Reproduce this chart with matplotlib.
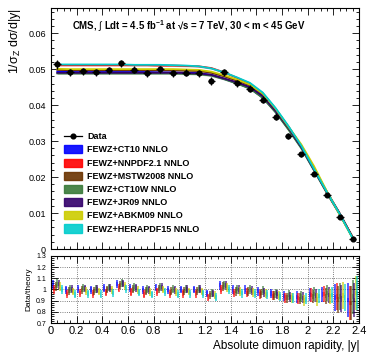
import matplotlib
matplotlib.use("Agg")
import matplotlib.pyplot as plt
import numpy as np
from matplotlib.ticker import MultipleLocator
from matplotlib.lines import Line2D
from matplotlib.patches import Patch, Rectangle

plt.rcParams['font.family'] = ['Liberation Sans', 'DejaVu Sans']
plt.rcParams['mathtext.fontset'] = 'custom'
plt.rcParams['mathtext.rm'] = 'Liberation Sans'
plt.rcParams['mathtext.it'] = 'Liberation Sans'
plt.rcParams['mathtext.bf'] = 'Liberation Sans:bold'

bin_centers = [0.05, 0.15, 0.25, 0.35, 0.45, 0.55, 0.65, 0.75, 0.85, 0.95, 1.05, 1.15,
               1.25, 1.35, 1.45, 1.55, 1.65, 1.75, 1.85, 1.95, 2.05, 2.15, 2.25, 2.35]
data = [0.0513, 0.0491, 0.0494, 0.0491, 0.0497, 0.0516, 0.0498, 0.0489, 0.0500, 0.0489, 0.0490, 0.0489,
        0.0467, 0.0491, 0.0461, 0.0446, 0.0415, 0.0368, 0.0315, 0.0263, 0.0209, 0.0150, 0.0090, 0.0029]
data_err = [0.0012, 0.0010, 0.0010, 0.0010, 0.0010, 0.0010, 0.0010, 0.0010, 0.0010, 0.0010, 0.0010, 0.0010,
            0.0010, 0.0010, 0.0010, 0.0010, 0.0010, 0.0009, 0.0008, 0.0008, 0.0007, 0.0006, 0.0005, 0.0004]

pdf_names = ["FEWZ+CT10 NNLO", "FEWZ+NNPDF2.1 NNLO", "FEWZ+MSTW2008 NNLO", "FEWZ+CT10W NNLO",
             "FEWZ+JR09 NNLO", "FEWZ+ABKM09 NNLO", "FEWZ+HERAPDF15 NNLO"]
pdf_colors = ["#0000ff", "#ff0000", "#6b3300", "#3a7a3a", "#33006b", "#cccc00", "#00cccc"]

theory_ct10 = [0.0493, 0.0492, 0.0492, 0.0492, 0.0492, 0.0492, 0.0492, 0.0492, 0.0491, 0.0491, 0.0490, 0.0489,
               0.0484, 0.0473, 0.0461, 0.0447, 0.0421, 0.0381, 0.0334, 0.0282, 0.0219, 0.0157, 0.0097, 0.0032]
theory_nnpdf = [0.0511, 0.0511, 0.0511, 0.0511, 0.0511, 0.0511, 0.0511, 0.0511, 0.0510, 0.0510, 0.0509, 0.0508,
                0.0503, 0.0491, 0.0476, 0.0460, 0.0433, 0.0390, 0.0340, 0.0285, 0.0220, 0.0156, 0.0096, 0.0033]
theory_mstw = [0.0498, 0.0497, 0.0497, 0.0497, 0.0497, 0.0497, 0.0497, 0.0497, 0.0497, 0.0497, 0.0496, 0.0495,
               0.0490, 0.0480, 0.0468, 0.0455, 0.0429, 0.0388, 0.0340, 0.0287, 0.0223, 0.0159, 0.0099, 0.0033]
theory_ct10w = [0.0488, 0.0488, 0.0488, 0.0488, 0.0488, 0.0488, 0.0488, 0.0488, 0.0488, 0.0488, 0.0487, 0.0486,
                0.0482, 0.0472, 0.0460, 0.0446, 0.0420, 0.0380, 0.0332, 0.0280, 0.0218, 0.0155, 0.0096, 0.0031]
theory_jr09 = [0.0490, 0.0490, 0.0490, 0.0490, 0.0490, 0.0490, 0.0490, 0.0490, 0.0490, 0.0490, 0.0489, 0.0488,
               0.0484, 0.0474, 0.0463, 0.0450, 0.0425, 0.0384, 0.0337, 0.0284, 0.0221, 0.0158, 0.0098, 0.0032]
theory_abkm = [0.0501, 0.0500, 0.0500, 0.0500, 0.0500, 0.0500, 0.0500, 0.0500, 0.0500, 0.0500, 0.0499, 0.0498,
               0.0493, 0.0483, 0.0471, 0.0457, 0.0432, 0.0390, 0.0340, 0.0291, 0.0230, 0.0160, 0.0095, 0.0030]
theory_hera = [0.0513, 0.0513, 0.0513, 0.0513, 0.0513, 0.0513, 0.0512, 0.0512, 0.0512, 0.0511, 0.0510, 0.0508,
               0.0502, 0.0491, 0.0477, 0.0462, 0.0435, 0.0392, 0.0342, 0.0287, 0.0222, 0.0158, 0.0097, 0.0030]
theories = [theory_ct10, theory_nnpdf, theory_mstw, theory_ct10w, theory_jr09, theory_abkm, theory_hera]

ratio_err = [0.04, 0.035, 0.035, 0.035, 0.035, 0.035, 0.035, 0.035, 0.035, 0.035, 0.035, 0.035,
             0.035, 0.04, 0.04, 0.04, 0.04, 0.04, 0.045, 0.05, 0.06, 0.07, 0.12, 0.15]

fig = plt.figure(figsize=(3.74, 3.63), dpi=100)
ax = fig.add_axes([0.136, 0.314, 0.824, 0.664])
axr = fig.add_axes([0.136, 0.110, 0.824, 0.185])

x = np.array(bin_centers)
for th, c in zip(theories, pdf_colors):
    th = np.array(th)
    ax.fill_between(x, th * 0.995, th * 1.005, color=c, alpha=0.35, lw=0)
    ax.plot(x, th, color=c, lw=1.3)

ax.errorbar(x, data, yerr=data_err, xerr=0.03, fmt='o', color='black', ms=3.4,
            elinewidth=0.9, capsize=0, zorder=10)

ax.set_xlim(0, 2.4)
ax.set_ylim(0, 0.067)
ax.yaxis.set_major_locator(MultipleLocator(0.01))
ax.yaxis.set_minor_locator(MultipleLocator(0.002))
ax.xaxis.set_major_locator(MultipleLocator(0.2))
ax.xaxis.set_minor_locator(MultipleLocator(0.05))
ax.set_yticks([0, 0.01, 0.02, 0.03, 0.04, 0.05, 0.06])
ax.set_yticklabels(["0", "0.01", "0.02", "0.03", "0.04", "0.05", "0.06"], fontsize=6.5)
ax.tick_params(axis='x', labelbottom=False)
for a in (ax, axr):
    a.tick_params(which='both', direction='in', top=True, right=True, width=0.6)
    a.tick_params(which='major', length=5)
    a.tick_params(which='minor', length=2.5)
    for s in a.spines.values():
        s.set_linewidth(0.8)
ax.set_ylabel(r"1/$\sigma_Z$ d$\sigma$/d|y|", fontsize=9, loc='top', labelpad=4)

ax.text(0.068, 0.925, "CMS, $\\int$ Ldt = 4.5 fb$^{\\mathbf{-1}}$ at \u221As = 7 TeV, 30 < m < 45 GeV",
        transform=ax.transAxes, fontsize=6.9, fontweight='bold', va='center')

handles = [Line2D([], [], color='black', marker='o', ms=3.4, lw=0.9)]
labels = ["Data"]
for n, c in zip(pdf_names, pdf_colors):
    handles.append(Patch(facecolor=c, edgecolor=c, alpha=0.9))
    labels.append(n)
leg = ax.legend(handles, labels, loc='upper left', bbox_to_anchor=(0.03, 0.50), frameon=False,
                prop={'weight': 'bold', 'size': 6.5}, handlelength=2.0, handleheight=1.0,
                labelspacing=0.45, borderaxespad=0, handletextpad=0.6)

# ratio panel
offsets = [0.015, 0.027, 0.039, 0.051, 0.063, 0.075, 0.087]
for th, c, off in zip(theories, pdf_colors, offsets):
    r = np.array(data) / np.array(th)
    xe = x - 0.05 + off
    for xi, ri, ei in zip(xe, r, ratio_err):
        axr.add_patch(Rectangle((xi - 0.007, ri - 0.02), 0.014, 0.04, facecolor=c, alpha=0.45, lw=0))
    axr.errorbar(xe, r, yerr=ratio_err, fmt='none', ecolor=c, elinewidth=1.2, alpha=0.75, capsize=0)

axr.set_xlim(0, 2.4)
axr.set_ylim(0.7, 1.3)
axr.xaxis.set_major_locator(MultipleLocator(0.2))
axr.xaxis.set_minor_locator(MultipleLocator(0.05))
axr.yaxis.set_major_locator(MultipleLocator(0.1))
axr.yaxis.set_minor_locator(MultipleLocator(0.02))
axr.set_xticks([0, 0.2, 0.4, 0.6, 0.8, 1.0, 1.2, 1.4, 1.6, 1.8, 2.0, 2.2, 2.4])
axr.set_xticklabels(["0", "0.2", "0.4", "0.6", "0.8", "1", "1.2", "1.4", "1.6", "1.8", "2", "2.2", "2.4"], fontsize=8)
axr.set_yticks([0.7, 0.8, 0.9, 1.0, 1.1, 1.2, 1.3])
axr.set_yticklabels(["0.7", "0.8", "0.9", "1", "1.1", "1.2", "1.3"], fontsize=5)
axr.grid(True, which='major', linestyle=':', color='#555555', lw=0.6)
axr.tick_params(axis='x', pad=2)
axr.set_ylabel("Data/theory", fontsize=6, labelpad=3)
axr.set_xlabel("Absolute dimuon rapidity, |y|", fontsize=8.5, loc='right', labelpad=3)

fig.savefig("out.png", dpi=100)
